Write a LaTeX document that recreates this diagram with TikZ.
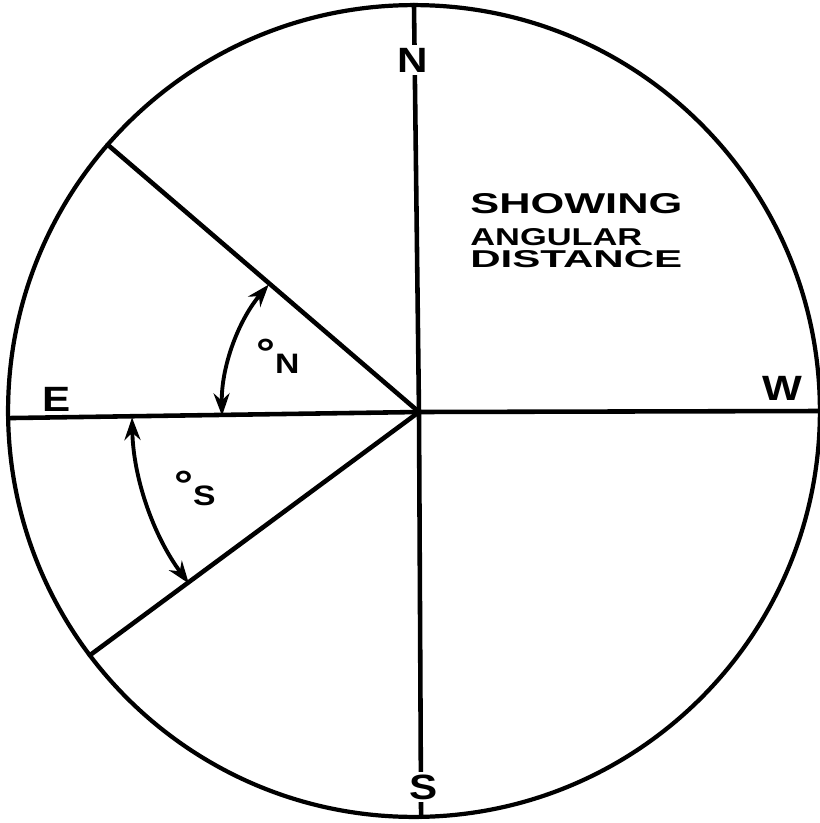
\documentclass[tikz,border=0pt]{standalone}
\usepackage{fontspec}
\setmainfont{Liberation Sans}
\newfontfamily\lettering[FakeStretch=1.2]{Liberation Sans}
\usetikzlibrary{arrows.meta}
\tikzset{ray/.style={line width=2.6pt,line cap=round},
         sweep/.style={{Stealth[length=4.5mm,width=3.2mm]}-{Stealth[length=4.5mm,width=3.2mm]},
           line width=2.2pt},
         compass/.style={font=\lettering\bfseries\fontsize{20}{24}\selectfont,inner sep=1.5pt},
         tag/.style={font=\lettering\bfseries\fontsize{16}{19}\selectfont,inner sep=0pt,
           anchor=base west}}
\newcommand{\fitword}[3]{\resizebox{#1}{#2}{\bfseries #3}}
\newcommand{\degmark}{\raisebox{.22em}{\scalebox{1.4}{°}}}

\begin{document}
\begin{tikzpicture}[x=.02cm,y=.02cm]
  \useasboundingbox (-419,-411) rectangle (401,412);
  \coordinate (O) at (0,0);
  \node[draw,circle,line width=2.4pt,minimum size=16.24cm,inner sep=0pt,outer sep=0pt]
    (rim) at (-5,1) {};
  % meridian and horizon
  \draw[ray] (rim.90.4) -- (O) -- (rim.271.5);
  \draw[ray] (rim.181.3) -- (O) -- (rim.0.7);
  \draw[ray] (O) -- (rim.139.3);
  \draw[ray] (O) -- (rim.217.2);
  % angles
  \draw[sweep] (O) ++(181.1:197) arc[start angle=181.1,end angle=139.7,radius=197];
  \draw[sweep] (O) ++(181.1:287) arc[start angle=181.1,end angle=216.7,radius=287];
  \node[compass,fill=white] (north) at (-6,352) {N};
  \node[compass,fill=white] (south) at (5,-375) {S};
  \node[compass] (east) at (-362,13) {E};
  \node[compass] (west) at (363,24) {W};
  \node[tag] (degn) at (-163,39) {\degmark N};
  \node[tag] (degs) at (-245,-93) {\degmark S};
  \node[tag] (showing) at (51,199) {\fitword{4.24cm}{.4cm}{SHOWING}};
  \node[tag] (angular) at (51,167) {\fitword{3.44cm}{.34cm}{ANGULAR}};
  \node[tag] (distance) at (51,145) {\fitword{4.24cm}{.34cm}{DISTANCE}};
\end{tikzpicture}
\end{document}
